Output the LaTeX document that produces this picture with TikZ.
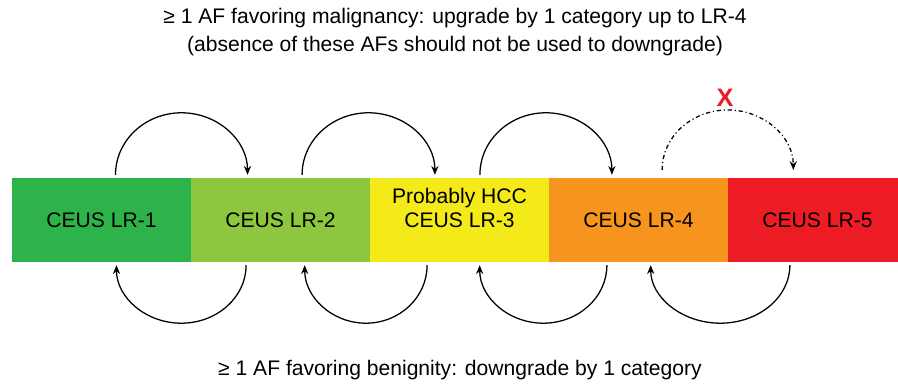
\documentclass[tikz,border=0pt]{standalone}
\usepackage{fontspec}
\setmainfont{Liberation Sans}
\usetikzlibrary{positioning, arrows.meta}
\definecolor{lrgreen}{HTML}{2DB34A}
\definecolor{lrlime}{HTML}{8DC63F}
\definecolor{lryellow}{HTML}{F4EA1A}
\definecolor{lrorange}{HTML}{F7941D}
\definecolor{lrred}{HTML}{ED1C24}

\begin{document}
\begin{tikzpicture}[
        cat/.style={rectangle, minimum width=4.475cm, minimum height=2.1cm, inner sep=0pt, outer sep=0pt, text centered, font=\fontsize{15}{16}\selectfont},
        note/.style={align=center, font=\fontsize{15}{20}\selectfont},
        loop/.style={-{Stealth[length=2.2mm, width=1.8mm]}, line width=0.9pt}]
      \useasboundingbox (0,-4.125) rectangle (22.45,5.5);
      % Categories
      \node[cat, fill=lrgreen] (lr1) at (2.5375,0) {CEUS LR-1};
      \node[cat, fill=lrlime] (lr2) at (7.0125,0) {CEUS LR-2};
      \node[cat, fill=lryellow] (lr3) at (11.4875,0) {CEUS LR-3};
      \node[font=\fontsize{15}{16}\selectfont] (hcc) at ([yshift=0.55cm]lr3.center) {Probably HCC};
      \node[cat, fill=lrorange] (lr4) at (15.9625,0) {CEUS LR-4};
      \node[cat, fill=lrred] (lr5) at (20.4375,0) {CEUS LR-5};

      % Upgrade
      \draw[loop] ([xshift=0.35cm, yshift=0.08cm]lr1.north) arc[start angle=180, end angle=0, x radius=1.65cm, y radius=1.55cm];
      \draw[loop] ([xshift=0.54cm, yshift=0.08cm]lr2.north) arc[start angle=180, end angle=0, x radius=1.66cm, y radius=1.55cm];
      \draw[loop] ([xshift=0.51cm, yshift=0.08cm]lr3.north) arc[start angle=180, end angle=0, x radius=1.65cm, y radius=1.55cm];
      \draw[loop, dash pattern=on 3pt off 2pt on 0.8pt off 2pt] ([xshift=0.59cm, yshift=0.2cm]lr4.north) arc[start angle=180, end angle=0, x radius=1.64cm, y radius=1.5cm];
      \node[text=lrred, font=\fontsize{18}{18}\bfseries] (no) at (18.125,3.05) {X};

      % Downgrade
      \draw[loop] ([xshift=-0.86cm, yshift=-0.08cm]lr2.south) arc[start angle=0, end angle=-180, x radius=1.62cm, y radius=1.45cm];
      \draw[loop] ([xshift=-0.81cm, yshift=-0.08cm]lr3.south) arc[start angle=0, end angle=-180, x radius=1.53cm, y radius=1.45cm];
      \draw[loop] ([xshift=-0.79cm, yshift=-0.08cm]lr4.south) arc[start angle=0, end angle=-180, x radius=1.59cm, y radius=1.45cm];
      \draw[loop] ([xshift=-0.69cm, yshift=-0.08cm]lr5.south) arc[start angle=0, end angle=-180, x radius=1.74cm, y radius=1.45cm];

      % Notes
      \node[note] (malig) at (11.375,4.7) {≥ 1 AF favoring malignancy: upgrade by 1 category up to LR-4\\(absence of these AFs should not be used to downgrade)};
      \node[note] (benig) at (11.5,-3.75) {≥ 1 AF favoring benignity: downgrade by 1 category};
    \end{tikzpicture}
\end{document}
